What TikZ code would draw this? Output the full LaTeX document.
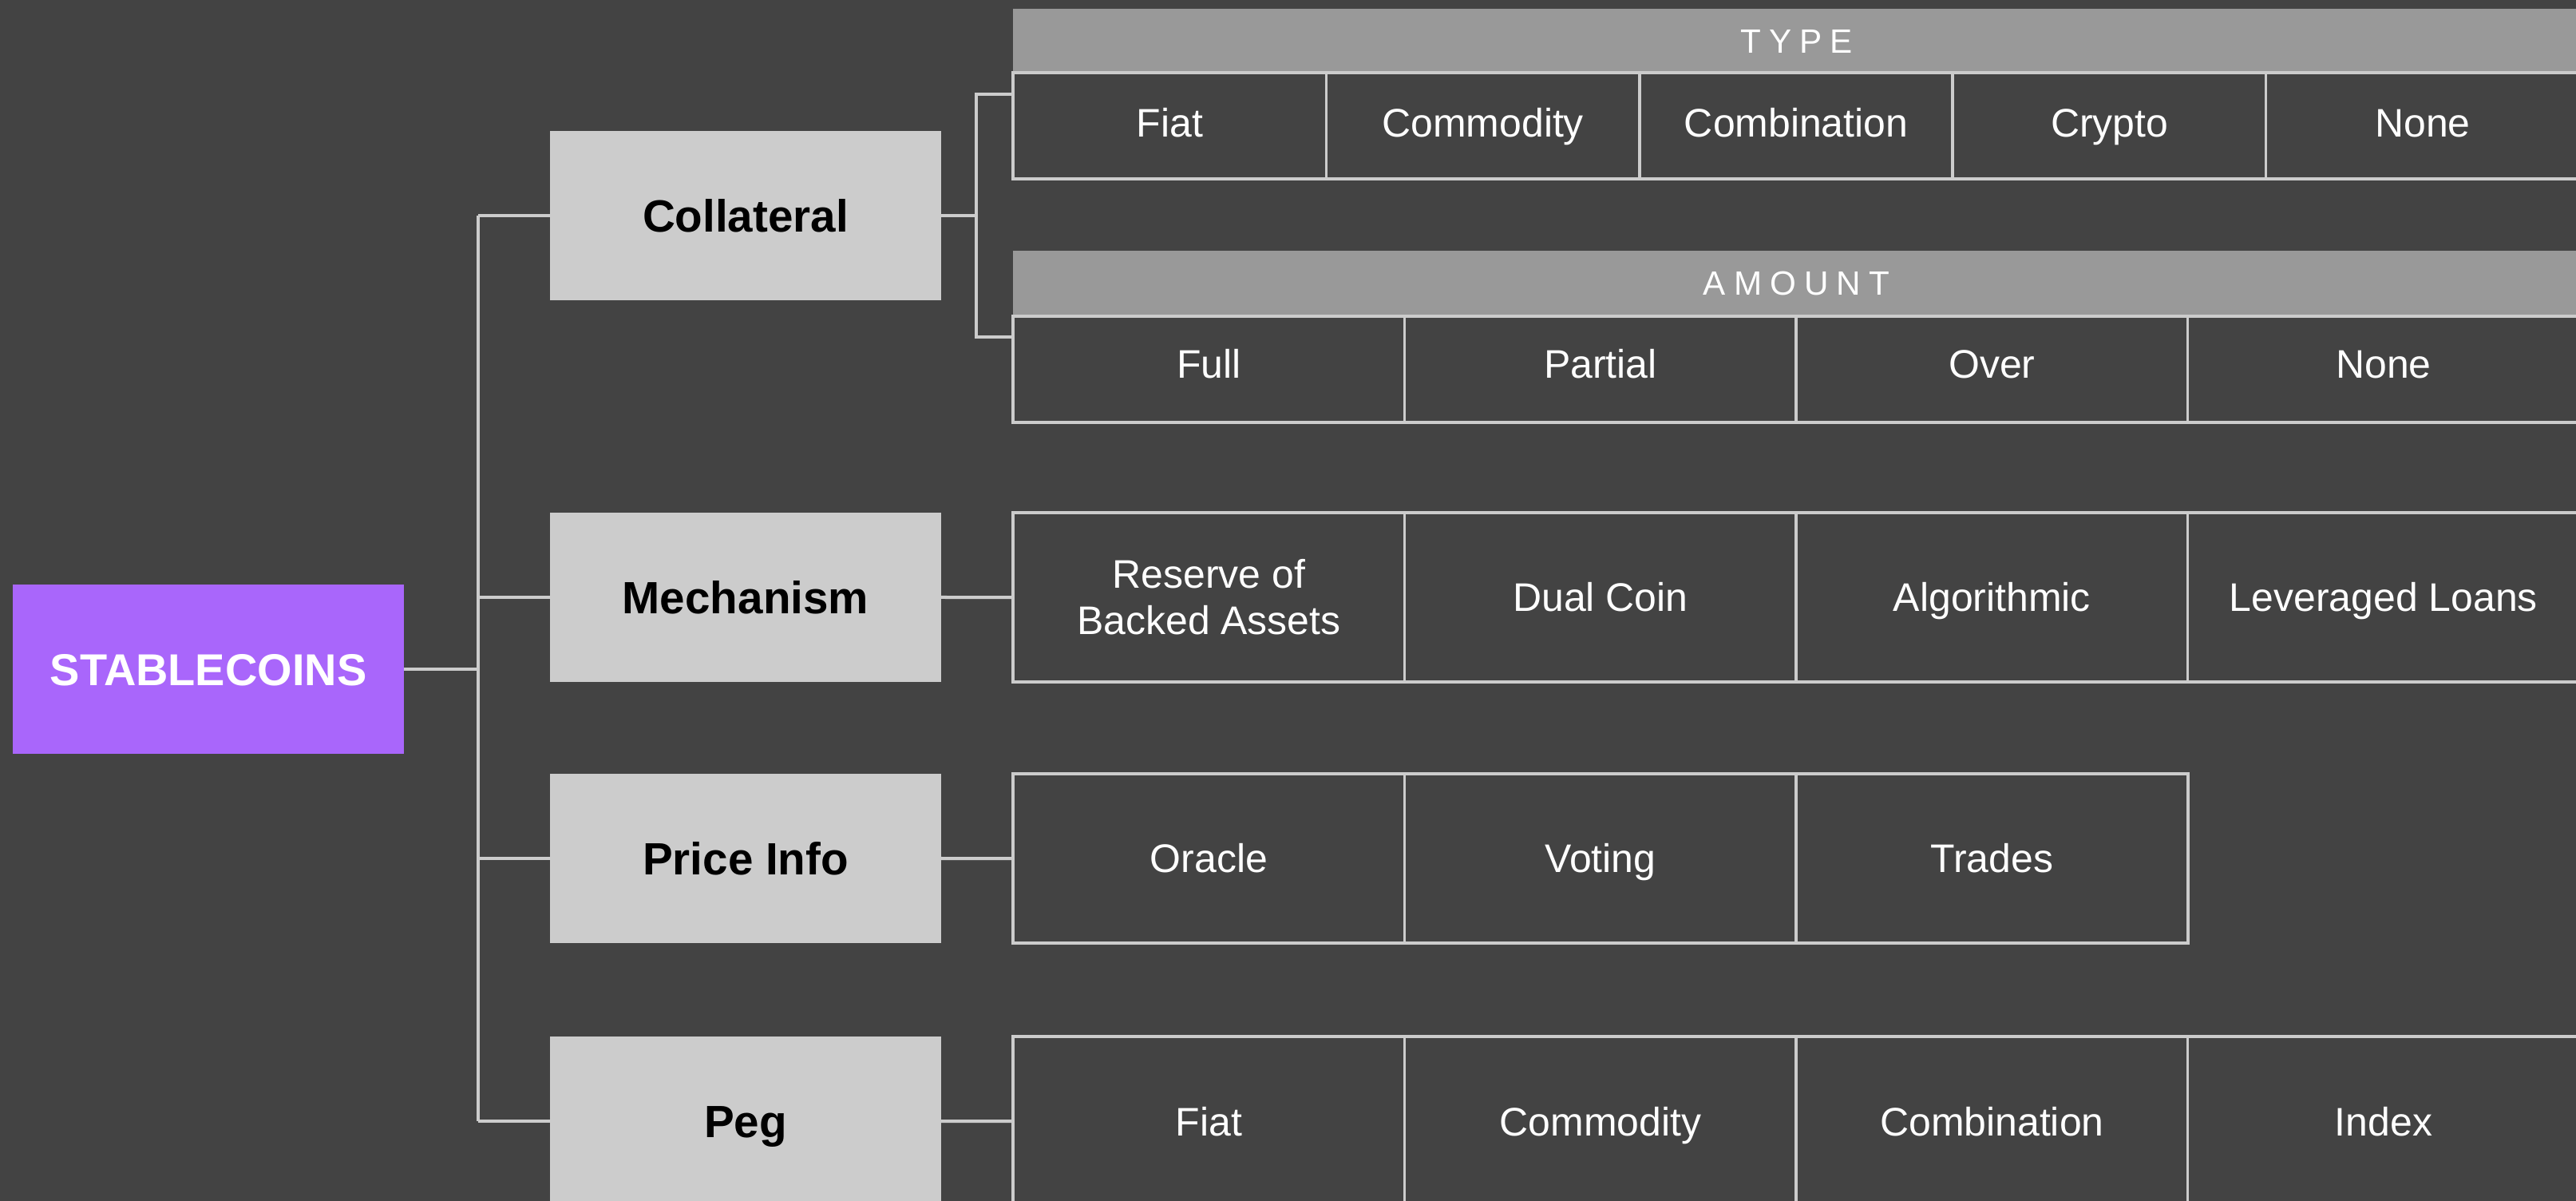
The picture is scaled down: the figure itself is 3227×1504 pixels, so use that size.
\documentclass[tikz,border=0pt]{standalone}
\usepackage{fontspec}
\setmainfont{Liberation Sans}
\newfontfamily\spacedfont[LetterSpace=24]{Liberation Sans}
\usetikzlibrary{calc}
\definecolor{bg}{HTML}{434343}
\definecolor{lineg}{HTML}{CCCCCC}
\definecolor{catg}{HTML}{CCCCCC}
\definecolor{hdrg}{HTML}{999999}
\definecolor{purp}{HTML}{A966FB}
\begin{document}
\begin{tikzpicture}[x=0.01cm,y=-0.01cm,
  conn/.style={draw=lineg, line width=0.04cm},
  rootbox/.style={fill=purp, text=white, font=\fontsize{15.9}{19}\selectfont\bfseries,
    minimum width=4.9cm, minimum height=2.12cm, inner sep=0pt, outer sep=0pt,
    text height=11.4pt, text depth=0pt},
  catbox/.style={fill=catg, text=black, font=\fontsize{16.1}{19}\selectfont\bfseries,
    minimum width=4.9cm, minimum height=2.12cm, inner sep=0pt, outer sep=0pt,
    text height=11.5pt, text depth=0pt},
  cellbox/.style={draw=lineg, line width=0.035cm, fill=bg, text=white,
    font=\fontsize{14.2}{16.5}\selectfont, align=center, anchor=north west,
    inner sep=0pt, outer sep=0pt, text height=10.2pt, text depth=0pt},
  hdrbox/.style={fill=hdrg, text=white, font=\fontsize{12}{14}\spacedfont,
    anchor=north west, minimum width=19.62cm, minimum height=0.81cm,
    inner sep=0pt, outer sep=0pt, text height=8.6pt, text depth=0pt},
  typecell/.style={cellbox, minimum width=3.924cm, minimum height=1.33cm,
    text height=7.7pt},
  quadcell/.style={cellbox, minimum width=4.905cm, minimum height=1.33cm,
    text height=6.4pt},
  rowcell/.style={cellbox, minimum width=4.905cm, minimum height=2.12cm}
]
\fill[bg] (0,0) rectangle (3227,1504);
\useasboundingbox (0,0) rectangle (3227,1504);
\clip (0,0) rectangle (3227,1504);

% root and categories
\node[rootbox] (root) at (261,838) {STABLECOINS};
\node[catbox] (col) at (934,270) {Collateral};
\node[catbox] (mech) at (934,748) {Mechanism};
\node[catbox] (price) at (934,1075) {Price Info};
\node[catbox] (peg) at (934,1404) {Peg};

% TYPE table
\node[hdrbox] (thdr) at (1269,11) {TYPE};
\node[typecell] (t1) at (1269,91) {Fiat};
\node[typecell] (t2) at (1661.4,91) {Commodity};
\node[typecell] (t3) at (2053.8,91) {Combination};
\node[typecell] (t4) at (2446.2,91) {Crypto};
\node[typecell] (t5) at (2838.6,91) {None};

% AMOUNT table
\node[hdrbox] (ahdr) at (1269,314) {AMOUNT};
\node[quadcell] (a1) at (1269,396) {Full};
\node[quadcell] (a2) at (1759.5,396) {Partial};
\node[quadcell] (a3) at (2250,396) {Over};
\node[quadcell] (a4) at (2740.5,396) {None};

% Mechanism table
\node[rowcell, text height={}, text depth={}] (m1) at (1269,642) {Reserve of\\Backed Assets};
\node[rowcell] (m2) at (1759.5,642) {Dual Coin};
\node[rowcell] (m3) at (2250,642) {Algorithmic};
\node[rowcell] (m4) at (2740.5,642) {Leveraged Loans};

% Price info table
\node[rowcell] (p1) at (1269,969) {Oracle};
\node[rowcell] (p2) at (1759.5,969) {Voting};
\node[rowcell] (p3) at (2250,969) {Trades};

% Peg table
\node[rowcell] (g1) at (1269,1298) {Fiat};
\node[rowcell] (g2) at (1759.5,1298) {Commodity};
\node[rowcell] (g3) at (2250,1298) {Combination};
\node[rowcell] (g4) at (2740.5,1298) {Index};

% trunk connectors
\coordinate (tk) at (599,0);
\draw[conn] (root.east) -- (root.east -| tk);
\draw[conn] (col.west -| tk) -- (peg.west -| tk);
\draw[conn] (col.west -| tk) -- (col.west);
\draw[conn] (mech.west -| tk) -- (mech.west);
\draw[conn] (price.west -| tk) -- (price.west);
\draw[conn] (peg.west -| tk) -- (peg.west);

% collateral bracket
\coordinate (bk) at (1223,0);
\coordinate (tin) at ($(thdr.north west)!0.5!(t1.south west)$);
\coordinate (ain) at ($(ahdr.north west)!0.5!(a1.south west)$);
\draw[conn] (col.east) -- (col.east -| bk);
\draw[conn] (tin) -- (tin -| bk) -- (ain -| bk) -- (ain);

% other connectors
\draw[conn] (mech.east) -- (m1.west);
\draw[conn] (price.east) -- (p1.west);
\draw[conn] (peg.east) -- (g1.west);
\end{tikzpicture}
\end{document}
